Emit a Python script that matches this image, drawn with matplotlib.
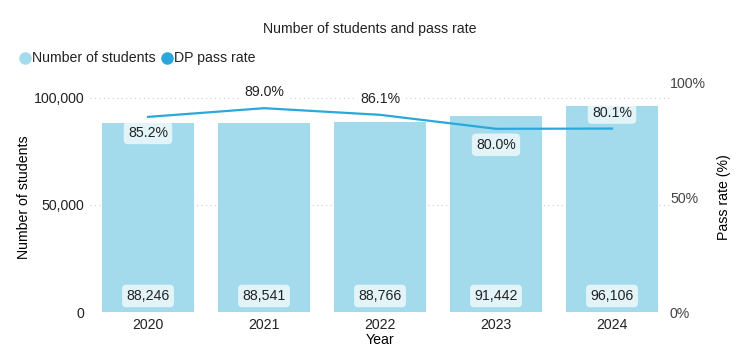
import matplotlib.pyplot as plt
from matplotlib.ticker import FuncFormatter

years = ["2020", "2021", "2022", "2023", "2024"]
students = [88246, 88541, 88766, 91442, 96106]
pass_rate = [85.2, 89.0, 86.1, 80.0, 80.1]
label_above = [False, True, True, False, True]

bar_color = "#a3dbec"
line_color = "#2aa8dc"
fs = 10.2

plt.rcParams['font.family'] = ['Liberation Sans', 'DejaVu Sans']

fig = plt.figure(figsize=(7.4, 3.48), dpi=100)
ax = fig.add_axes([90 / 740, 36 / 348, 580 / 740, 229 / 348])
ax2 = ax.twinx()

x = list(range(len(years)))
ax.bar(x, students, width=0.8, color=bar_color, zorder=2)
ax.set_xlim(-0.5, 4.5)
ax.set_ylim(0, 107000)
ax.set_yticks([0, 50000, 100000])
ax.yaxis.set_major_formatter(FuncFormatter(lambda v, p: f"{int(v):,}"))
ax.set_xticks(x)
ax.set_xticklabels(years)
ax.grid(axis="y", linestyle=(0, (1, 3)), color="#cccccc", linewidth=0.8, zorder=0)
ax.set_axisbelow(True)
for s in ax.spines.values():
    s.set_visible(False)
for s in ax2.spines.values():
    s.set_visible(False)
ax.tick_params(length=0, labelsize=fs, colors="#222222", pad=4)
ax.set_xlabel("Year", fontsize=fs, labelpad=1)
ax.set_ylabel("Number of students", fontsize=fs, labelpad=2)

box = dict(boxstyle="round,pad=0.3,rounding_size=0.3", fc="white", ec="none", alpha=0.7)

for xi, v in zip(x, students):
    ax.text(xi, 7500, f"{v:,}", ha="center", va="center", fontsize=fs,
            color="#222222", zorder=5, bbox=box)

ax2.plot(x, pass_rate, color=line_color, linewidth=1.6, zorder=4)
ax2.set_ylim(0, 100)
ax2.set_yticks([0, 50, 100])
ax2.set_yticklabels(["0%", "50%", "100%"])
ax2.tick_params(length=0, labelsize=fs, colors="#444444", pad=0)
ax2.set_ylabel("Pass rate (%)", fontsize=fs, labelpad=8)

for xi, v, up in zip(x, pass_rate, label_above):
    off = 7 if up else -7
    ax2.text(xi, v + off, f"{v:.1f}%", ha="center", va="center", fontsize=fs,
             color="#222222", zorder=5, bbox=box)

fig.text(370 / 740, 1 - 29 / 348, "Number of students and pass rate",
         ha="center", va="center", fontsize=fs, color="#222222")

# legend
fig.text(32 / 740, 1 - 58 / 348, "Number of students", ha="left", va="center", fontsize=fs, color="#222222")
fig.text(174 / 740, 1 - 58 / 348, "DP pass rate", ha="left", va="center", fontsize=fs, color="#222222")
fig.lines.append(plt.Line2D([25 / 740], [1 - 58 / 348], marker="o", markersize=8,
                            color=bar_color, transform=fig.transFigure, linestyle="none"))
fig.lines.append(plt.Line2D([167 / 740], [1 - 58 / 348], marker="o", markersize=8,
                            color=line_color, transform=fig.transFigure, linestyle="none"))

fig.savefig("out.png", dpi=100)
